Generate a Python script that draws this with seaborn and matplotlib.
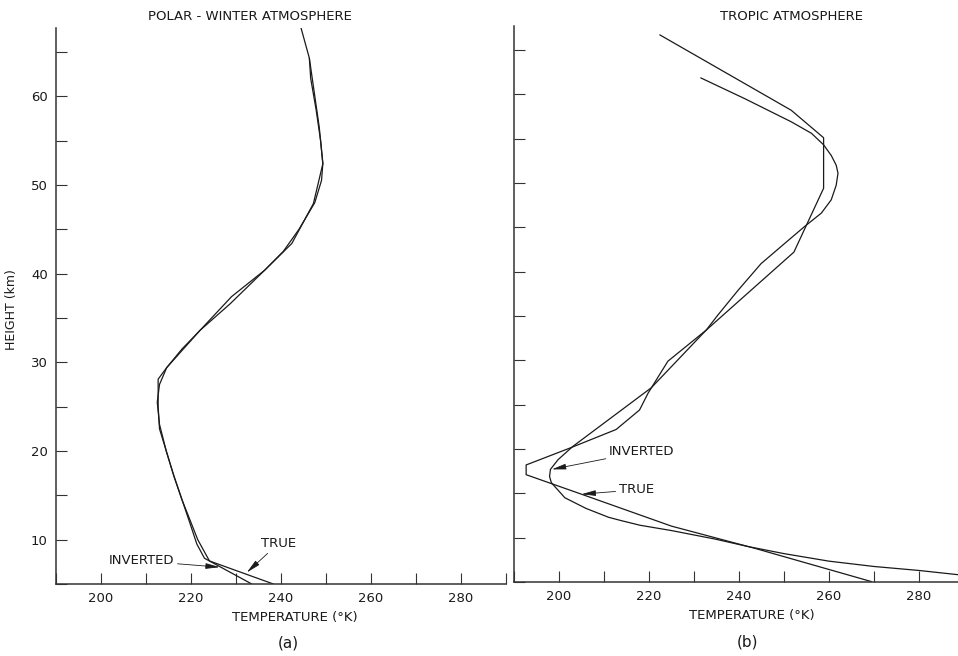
import matplotlib
matplotlib.use("Agg")
import matplotlib.pyplot as plt
import seaborn as sns
import pandas as pd
import numpy as np

# ---------------- data (temperature K, height km) ----------------
polar_true_T = [238.3, 224.1, 221.5, 218.0, 216.0, 213.0, 212.7, 212.7, 214.6, 222.0,
                228.7, 236.4, 242.4, 247.2, 249.3, 248.5, 246.3, 244.4]
polar_true_H = [5.0, 7.6, 10.0, 14.5, 17.5, 22.5, 25.0, 28.1, 29.4, 33.6,
                36.6, 40.4, 43.4, 47.9, 52.4, 56.5, 64.3, 67.8]

polar_inv_T = [233.5, 223.0, 221.3, 219.8, 218.0, 216.3, 214.5, 213.0, 212.5, 213.0,
               214.6, 218.0, 222.0, 229.0, 236.4, 240.5, 244.0, 247.5, 249.0, 249.3,
               248.8, 247.8, 246.6, 246.3]
polar_inv_H = [5.0, 7.9, 9.5, 11.8, 14.5, 17.0, 20.0, 23.0, 25.5, 27.5,
               29.4, 31.5, 33.6, 37.4, 40.4, 42.5, 45.0, 48.0, 50.5, 52.4,
               55.0, 58.5, 62.0, 64.3]

tropic_true_T = [269.4, 243.5, 225.0, 205.0, 192.7, 192.7, 202.4, 212.7, 217.9, 219.8,
                 224.2, 232.7, 252.2, 258.8, 258.8, 251.6, 222.4]
tropic_true_H = [5.05, 8.8, 11.3, 14.9, 17.1, 18.2, 20.1, 22.2, 24.4, 26.3,
                 29.9, 33.4, 42.2, 49.4, 55.1, 58.2, 66.7]

tropic_inv_T = [292.0, 288.2, 280.0, 270.0, 260.0, 250.0, 242.0, 234.6, 225.0, 218.0,
                214.0, 211.0, 206.0, 201.3, 198.3, 197.9, 198.1, 199.8, 203.1, 220.5,
                232.7, 235.3, 239.8, 244.9, 250.2, 254.6, 258.3, 260.5, 261.6, 262.0,
                261.6, 260.5, 258.8, 256.1, 251.6, 241.3, 231.5]
tropic_inv_H = [5.65, 5.85, 6.3, 6.75, 7.35, 8.2, 9.0, 9.85, 10.8, 11.4,
                11.9, 12.3, 13.3, 14.5, 16.2, 16.9, 17.7, 18.8, 20.3, 26.9,
                33.4, 35.1, 37.9, 40.9, 43.2, 45.1, 46.6, 48.1, 49.75, 51.1,
                52.0, 53.1, 54.3, 55.6, 56.9, 59.5, 61.85]

panel_titles = ["POLAR - WINTER ATMOSPHERE", "TROPIC ATMOSPHERE"]
panel_tags = ["(a)", "(b)"]
xlabel = "TEMPERATURE (°K)"
ylabel = "HEIGHT (km)"
x_major = [200, 220, 240, 260, 280]
y_major = [10, 20, 30, 40, 50, 60]

# ---------------- style ----------------
sns.set_style("ticks")
plt.rcParams['font.family'] = ['DejaVu Sans']
ink = "#1a1a1a"

fig = plt.figure(figsize=(9.58, 6.56), dpi=100)
W, H = 958.0, 656.0
axL = fig.add_axes([56 / W, 72 / H, 450 / W, 556 / H])
axR = fig.add_axes([514 / W, 74 / H, 450 / W, 556 / H])

def draw(ax, tT, tH, iT, iH):
    df_t = pd.DataFrame({"T": tT, "H": tH})
    df_i = pd.DataFrame({"T": iT, "H": iH})
    sns.lineplot(data=df_t, x="T", y="H", sort=False, estimator=None,
                 color=ink, lw=0.9, ax=ax)
    sns.lineplot(data=df_i, x="T", y="H", sort=False, estimator=None,
                 color=ink, lw=0.9, ax=ax)

draw(axL, polar_true_T, polar_true_H, polar_inv_T, polar_inv_H)
draw(axR, tropic_true_T, tropic_true_H, tropic_inv_T, tropic_inv_H)

for ax in (axL, axR):
    ax.set_xlim(190, 290)
    ax.set_ylim(5, 67.7)
    for s in ("top", "right"):
        ax.spines[s].set_visible(False)
    for s in ("left", "bottom"):
        ax.spines[s].set_linewidth(1.1)
        ax.spines[s].set_color("#333333")
    ax.set_xticks(np.arange(190, 291, 10), minor=True)
    ax.set_xticks(x_major)
    ax.set_xticklabels([str(v) for v in x_major])
    ax.set_yticks(np.arange(5, 66, 5), minor=True)
    ax.set_yticks(y_major)
    ax.tick_params(which="both", direction="in", length=8, width=0.8,
                   color="#333333", labelsize=9.5, labelcolor=ink, pad=6)
    ax.set_xlabel("")
    ax.set_ylabel("")
    ax.grid(False)

axL.set_yticklabels([str(v) for v in y_major])
axR.set_yticklabels([])

# text
fs = 9.5
fig.text(250 / W, 1 - 17 / H, panel_titles[0], ha="center", va="center", fontsize=fs, color=ink)
fig.text(792 / W, 1 - 16 / H, panel_titles[1], ha="center", va="center", fontsize=fs, color=ink)
fig.text(295 / W, 1 - 617 / H, xlabel, ha="center", va="center", fontsize=fs, color=ink)
fig.text(752 / W, 1 - 616 / H, xlabel, ha="center", va="center", fontsize=fs, color=ink)
fig.text(288 / W, 1 - 643 / H, panel_tags[0], ha="center", va="center", fontsize=11, color=ink)
fig.text(747 / W, 1 - 642 / H, panel_tags[1], ha="center", va="center", fontsize=11, color=ink)
fig.text(12 / W, 1 - 310 / H, ylabel, ha="center", va="center", rotation=90, fontsize=9, color=ink)

arrow = dict(arrowstyle="-|>,head_length=0.9,head_width=0.18", lw=0.6, color=ink,
             shrinkA=0, shrinkB=0)
axL.annotate("TRUE", xy=(232.4, 6.3), xytext=(239.4, 9.55), ha="center", va="center",
             fontsize=fs, color=ink, arrowprops=arrow)
axL.annotate("INVERTED", xy=(226.4, 6.9), xytext=(209.0, 7.6), ha="center", va="center",
             fontsize=fs, color=ink, arrowprops=arrow)
axR.annotate("INVERTED", xy=(198.4, 17.7), xytext=(218.4, 19.7), ha="center", va="center",
             fontsize=fs, color=ink, arrowprops=arrow)
axR.annotate("TRUE", xy=(205.0, 14.9), xytext=(217.2, 15.4), ha="center", va="center",
             fontsize=fs, color=ink, arrowprops=arrow)

fig.savefig("out.png", dpi=100)
